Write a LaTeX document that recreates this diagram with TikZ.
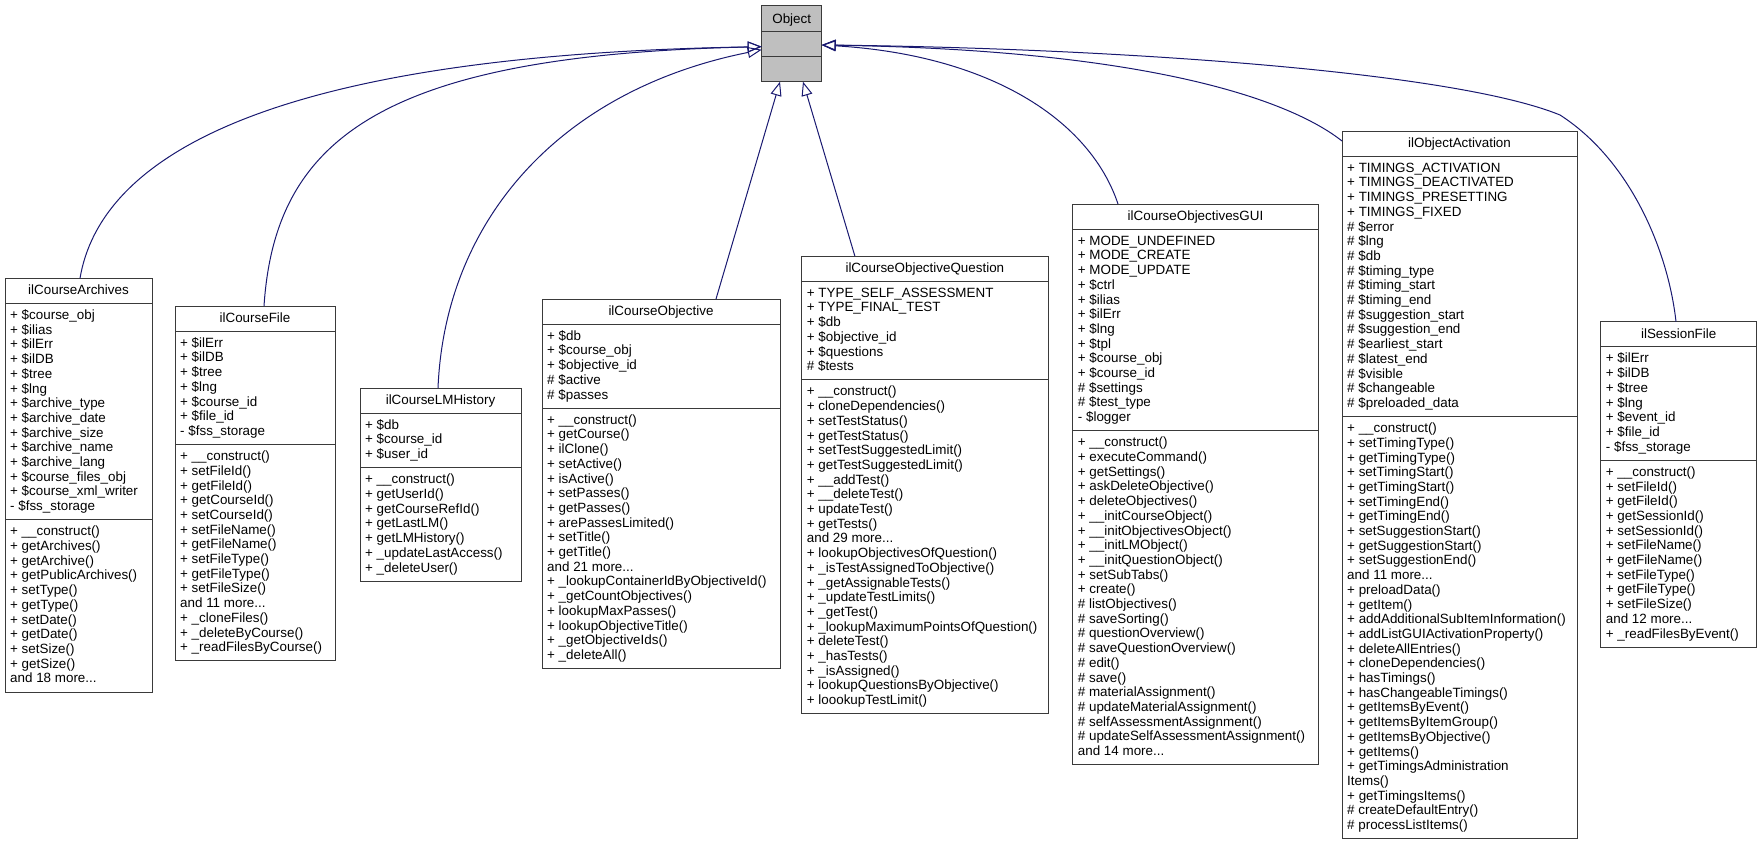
\documentclass[tikz,border=0pt]{standalone}
\usepackage{fontspec}
\setmainfont{Liberation Sans}
\usetikzlibrary{arrows.meta}
\definecolor{edgec}{HTML}{191970}
\definecolor{boxc}{HTML}{3A3A3A}
\definecolor{objfill}{HTML}{BFBFBF}
\newcount\nA \newcount\nM
\newcommand\ddd{...}
\newcommand\umlclass[7]{%
  \global\nA=0 \global\nM=0
  \node[ttl] (#1-t) at ({#2+#4/2},{#3+16.5}) {#5};
  \foreach \s [count=\i] in {#6}{%
    \node[mem] (#1-a\i) at ({#2+5},{#3+25.2+16+(\i-1)*14.7}) {\s};
    \global\advance\nA by 1\relax}%
  \pgfmathsetmacro\yA{#3+25.2}%
  \pgfmathsetmacro\yB{\yA+\the\nA*14.7+10.5}%
  \foreach \s [count=\i] in {#7}{%
    \node[mem] (#1-m\i) at ({#2+5},{\yB+16+(\i-1)*14.7}) {\s};
    \global\advance\nM by 1\relax}%
  \pgfmathsetmacro\yC{\yB+\the\nM*14.7+10.5}%
  \pgfmathsetmacro\hh{\yC-#3}%
  \draw[boxline] (#2,\yA) -- ({#2+#4},\yA);
  \draw[boxline] (#2,\yB) -- ({#2+#4},\yB);
  \node[cls, minimum width=#4pt, minimum height=\hh pt, anchor=north west] (#1) at (#2,#3) {};
}
\begin{document}
\begin{tikzpicture}[x=1pt,y=-1pt,
  font=\fontsize{13.4}{14.7}\selectfont,
  ttl/.style={anchor=base, inner sep=0pt},
  mem/.style={anchor=base west, inner sep=0pt},
  cls/.style={draw=boxc, line width=1pt, inner sep=0pt, outer sep=0pt},
  boxline/.style={draw=boxc, line width=1pt},
  inh/.style={draw=edgecol, line width=1pt, -{Triangle[open, length=14pt, width=11pt]}},
  edgecol/.style={},
]
\colorlet{edgecol}{edgec}
\useasboundingbox (0,0) rectangle (1759,844);

% Object
\node[cls, fill=objfill, minimum width=60pt, minimum height=76pt, anchor=north west] (obj) at (761.7,5.7) {};
\node[ttl] (obj-t) at (791.7,23.5) {Object};
\draw[boxline] (761.7,31.7) -- (821.7,31.7);
\draw[boxline] (761.7,56.7) -- (821.7,56.7);

\umlclass{arch}{5}{278.3}{147}{ilCourseArchives}
 {+ \$course\_obj, + \$ilias, + \$ilErr, + \$ilDB, + \$tree, + \$lng, + \$archive\_type, + \$archive\_date, + \$archive\_size, + \$archive\_name, + \$archive\_lang, + \$course\_files\_obj, + \$course\_xml\_writer, - \$fss\_storage}
 {+ \_\_construct(), + getArchives(), + getArchive(), + getPublicArchives(), + setType(), + getType(), + setDate(), + getDate(), + setSize(), + getSize(), and 18 more\ddd}

\umlclass{cfile}{175}{306}{160}{ilCourseFile}
 {+ \$ilErr, + \$ilDB, + \$tree, + \$lng, + \$course\_id, + \$file\_id, - \$fss\_storage}
 {+ \_\_construct(), + setFileId(), + getFileId(), + getCourseId(), + setCourseId(), + setFileName(), + getFileName(), + setFileType(), + getFileType(), + setFileSize(), and 11 more\ddd, + \_cloneFiles(), + \_deleteByCourse(), + \_readFilesByCourse()}

\umlclass{lmh}{360}{388}{161}{ilCourseLMHistory}
 {+ \$db, + \$course\_id, + \$user\_id}
 {+ \_\_construct(), + getUserId(), + getCourseRefId(), + getLastLM(), + getLMHistory(), + \_updateLastAccess(), + \_deleteUser()}

\umlclass{cobj}{542}{299}{238}{ilCourseObjective}
 {+ \$db, + \$course\_obj, + \$objective\_id, \# \$active, \# \$passes}
 {+ \_\_construct(), + getCourse(), + ilClone(), + setActive(), + isActive(), + setPasses(), + getPasses(), + arePassesLimited(), + setTitle(), + getTitle(), and 21 more\ddd, + \_lookupContainerIdByObjectiveId(), + \_getCountObjectives(), + lookupMaxPasses(), + lookupObjectiveTitle(), + \_getObjectiveIds(), + \_deleteAll()}

\umlclass{coq}{801.7}{256}{246.3}{ilCourseObjectiveQuestion}
 {+ TYPE\_SELF\_ASSESSMENT, + TYPE\_FINAL\_TEST, + \$db, + \$objective\_id, + \$questions, \# \$tests}
 {+ \_\_construct(), + cloneDependencies(), + setTestStatus(), + getTestStatus(), + setTestSuggestedLimit(), + getTestSuggestedLimit(), + \_\_addTest(), + \_\_deleteTest(), + updateTest(), + getTests(), and 29 more\ddd, + lookupObjectivesOfQuestion(), + \_isTestAssignedToObjective(), + \_getAssignableTests(), + \_updateTestLimits(), + \_getTest(), + \_lookupMaximumPointsOfQuestion(), + deleteTest(), + \_hasTests(), + \_isAssigned(), + lookupQuestionsByObjective(), + loookupTestLimit()}

\umlclass{gui}{1072.7}{204}{245.6}{ilCourseObjectivesGUI}
 {+ MODE\_UNDEFINED, + MODE\_CREATE, + MODE\_UPDATE, + \$ctrl, + \$ilias, + \$ilErr, + \$lng, + \$tpl, + \$course\_obj, + \$course\_id, \# \$settings, \# \$test\_type, - \$logger}
 {+ \_\_construct(), + executeCommand(), + getSettings(), + askDeleteObjective(), + deleteObjectives(), + \_\_initCourseObject(), + \_\_initObjectivesObject(), + \_\_initLMObject(), + \_\_initQuestionObject(), + setSubTabs(), + create(), \# listObjectives(), \# saveSorting(), \# questionOverview(), \# saveQuestionOverview(), \# edit(), \# save(), \# materialAssignment(), \# updateMaterialAssignment(), \# selfAssessmentAssignment(), \# updateSelfAssessmentAssignment(), and 14 more\ddd}

\umlclass{act}{1342}{131}{235}{ilObjectActivation}
 {+ TIMINGS\_ACTIVATION, + TIMINGS\_DEACTIVATED, + TIMINGS\_PRESETTING, + TIMINGS\_FIXED, \# \$error, \# \$lng, \# \$db, \# \$timing\_type, \# \$timing\_start, \# \$timing\_end, \# \$suggestion\_start, \# \$suggestion\_end, \# \$earliest\_start, \# \$latest\_end, \# \$visible, \# \$changeable, \# \$preloaded\_data}
 {+ \_\_construct(), + setTimingType(), + getTimingType(), + setTimingStart(), + getTimingStart(), + setTimingEnd(), + getTimingEnd(), + setSuggestionStart(), + getSuggestionStart(), + setSuggestionEnd(), and 11 more\ddd, + preloadData(), + getItem(), + addAdditionalSubItemInformation(), + addListGUIActivationProperty(), + deleteAllEntries(), + cloneDependencies(), + hasTimings(), + hasChangeableTimings(), + getItemsByEvent(), + getItemsByItemGroup(), + getItemsByObjective(), + getItems(), + getTimingsAdministration, Items(), + getTimingsItems(), \# createDefaultEntry(), \# processListItems()}

\umlclass{sess}{1600.7}{321.7}{156}{ilSessionFile}
 {+ \$ilErr, + \$ilDB, + \$tree, + \$lng, + \$event\_id, + \$file\_id, - \$fss\_storage}
 {+ \_\_construct(), + setFileId(), + getFileId(), + getSessionId(), + setSessionId(), + setFileName(), + getFileName(), + setFileType(), + getFileType(), + setFileSize(), and 12 more\ddd, + \_readFilesByEvent()}

% inheritance edges
\draw[inh] ([xshift=1.5pt]arch.north) .. controls (100,160) and (260,55) .. ([yshift=-3pt]obj.west);
\draw[inh] ([xshift=9pt]cfile.north) .. controls (275,140) and (380,55) .. ([yshift=-3pt]obj.west);
\draw[inh] ([xshift=-2.5pt]lmh.north) .. controls (445,220) and (560,90) .. ([yshift=-6pt]obj.west);
\draw[inh] ([xshift=55pt]cobj.north) -- ([xshift=-11.7pt]obj.south);
\draw[inh] ([xshift=-70pt]coq.north) -- ([xshift=11.3pt]obj.south);
\draw[inh] ([xshift=-77.5pt]gui.north) .. controls (1090,120) and (990,55) .. ([yshift=-1.3pt]obj.east);
\draw[inh] ([yshift=-10pt]act.north west) .. controls (1290,100) and (1150,50) .. ([yshift=-1.3pt]obj.east);
\draw[inh] ([xshift=-2.7pt]sess.north) .. controls (1668,250) and (1630,160) .. (1560,115) .. controls (1450,70) and (1100,48) .. ([yshift=-1.3pt]obj.east);
\end{tikzpicture}
\end{document}
